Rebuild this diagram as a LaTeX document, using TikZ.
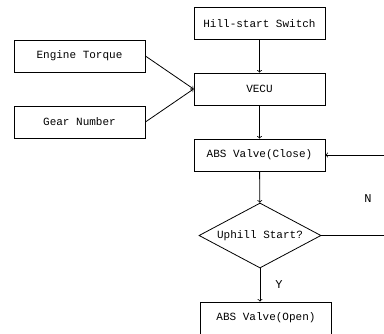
\documentclass[tikz,border=0pt]{standalone}
\usepackage{fontspec}
\setmonofont{Liberation Mono}
\usetikzlibrary{shapes.geometric}
\begin{document}
\begin{tikzpicture}[x=1pt,y=-1pt,
    box/.style={draw, line width=0.8pt, minimum width=131pt, minimum height=32pt, inner sep=0pt,
        font=\ttfamily\fontsize{11}{13}\selectfont},
    decision/.style={draw, diamond, aspect=1.88, line width=0.8pt, minimum width=122pt, minimum height=65pt, inner sep=0pt,
        font=\ttfamily\fontsize{11}{13}\selectfont},
    flow/.style={->, line width=0.8pt},
    lbl/.style={font=\ttfamily\fontsize{12}{14}\selectfont}]
    \useasboundingbox (0,0) rectangle (384,333);
    \clip (0,0) rectangle (384,333);

    % Draw boxes
    \node[box] (switch) at (259.5,23.5) {Hill-start Switch};
    \node[box] (torque) at (79.5,56) {Engine Torque};
    \node[box] (vecu) at (259.5,89) {VECU};
    \node[box] (gear) at (79.5,122) {Gear Number};
    \node[box] (close) at (259.5,155) {ABS Valve(Close)};
    \node[decision] (uphill) at (260,235.5) {Uphill Start?};
    \node[box] (open) at (266,318) {ABS Valve(Open)};

    % Draw arrows
    \draw[flow] (switch) -- (vecu);
    \draw[flow] (torque.east) -- (vecu.west);
    \draw[flow] (gear.east) -- (vecu.west);
    \draw[flow] (vecu) -- (close);
    \draw[flow] (close) -- (uphill);
    \draw[flow] (uphill.south) -- (uphill.south |- open.north);

    % Draw loop back (its right side runs past the edge)
    \coordinate (corner) at (385,235.5);
    \draw[flow] (uphill.east) -- (corner) |- (close.east);

    % Draw labels
    \node[lbl] (no) at (368,199) {N};
    \node[lbl] (yes) at (279,285) {Y};
\end{tikzpicture}
\end{document}
